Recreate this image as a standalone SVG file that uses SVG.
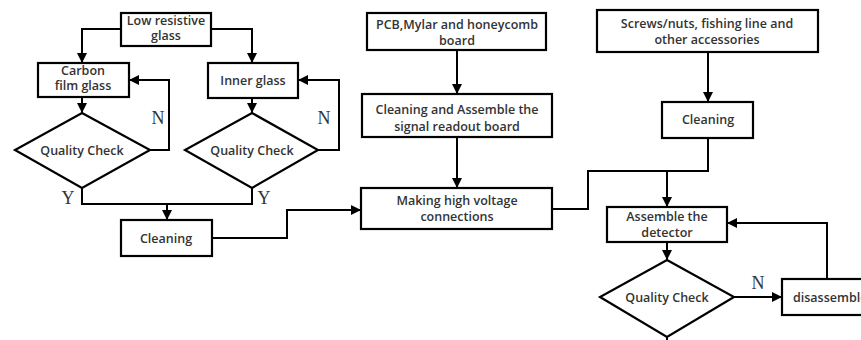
<svg xmlns="http://www.w3.org/2000/svg" width="861" height="340" viewBox="0 0 861 340">
<defs>
<marker id="ah" viewBox="0 0 10 10" refX="10" refY="5" markerWidth="5" markerHeight="5" orient="auto" markerUnits="strokeWidth">
<path d="M0,0 L10,5 L0,10 z" fill="#000"/>
</marker>
<style>
.box{fill:#fff;stroke:#000;stroke-width:2.2}
.t{font-family:"Open Sans","Liberation Sans",sans-serif;font-weight:600;font-size:12.5px;fill:#333;text-anchor:middle}
.l{font-family:"Liberation Serif","DejaVu Serif",serif;font-size:18px;fill:#333;text-anchor:middle}
.c{fill:none;stroke:#000;stroke-width:2}
.a{marker-end:url(#ah)}
</style>
</defs>
<rect width="861" height="340" fill="#fff"/>
<g id="connectors">
<path class="c a" d="M121,29 H82 V63"/>
<path class="c a" d="M211,29 H252 V63"/>
<path class="c a" d="M82,97 V113"/>
<path class="c a" d="M252,98 V113"/>
<path class="c a" d="M150,150 H169 V80 H129"/>
<path class="c a" d="M318,150 H339 V80 H298"/>
<path class="c" d="M82,188 V204 H252 V188"/>
<path class="c a" d="M167,204 V220"/>
<path class="c a" d="M212,238 H287 V210 H361"/>
<path class="c a" d="M457,50 V94"/>
<path class="c a" d="M457,137 V188"/>
<path class="c a" d="M708,52 V102"/>
<path class="c" d="M552,209 H588 V171 H708 V138"/>
<path class="c a" d="M667,171 V207"/>
<path class="c a" d="M667,242 V260"/>
<path class="c a" d="M734,297 H782"/>
<path class="c a" d="M827,279 V223 H727"/>
<path class="c" d="M667,337 V340"/>
<text class="l" x="158" y="124">N</text>
<text class="l" x="324" y="124">N</text>
<text class="l" x="68" y="204">Y</text>
<text class="l" x="264" y="204">Y</text>
<text class="l" x="758" y="289">N</text>
</g>
<g id="low-resistive-glass">
<rect class="box" x="121" y="13" width="90" height="33"/>
<text class="t" x="166" y="25">Low resistive</text>
<text class="t" x="166" y="40">glass</text>
</g>
<g id="carbon-film-glass">
<rect class="box" x="38" y="63" width="91" height="34"/>
<text class="t" x="83" y="75">Carbon</text>
<text class="t" x="83" y="90">film glass</text>
</g>
<g id="inner-glass">
<rect class="box" x="208" y="63" width="90" height="35"/>
<text class="t" x="253" y="85">Inner glass</text>
</g>
<g id="qc-left">
<polygon class="box" points="82,113 150,150 82,188 15,150"/>
<text class="t" x="82" y="155">Quality Check</text>
</g>
<g id="qc-right">
<polygon class="box" points="252,113 318,150 252,188 185,150"/>
<text class="t" x="252" y="155">Quality Check</text>
</g>
<g id="cleaning-left">
<rect class="box" x="121" y="220" width="91" height="36"/>
<text class="t" x="166" y="243">Cleaning</text>
</g>
<g id="pcb">
<rect class="box" x="367" y="13" width="179" height="37"/>
<text class="t" x="457" y="29">PCB,Mylar and honeycomb</text>
<text class="t" x="457" y="45">board</text>
</g>
<g id="cleaning-assemble">
<rect class="box" x="362" y="94" width="190" height="43"/>
<text class="t" x="457" y="114">Cleaning and Assemble the</text>
<text class="t" x="457" y="131">signal readout board</text>
</g>
<g id="making-hv">
<rect class="box" x="361" y="188" width="191" height="41"/>
<text class="t" x="457" y="205">Making high voltage</text>
<text class="t" x="457" y="221">connections</text>
</g>
<g id="screws">
<rect class="box" x="597" y="10" width="221" height="42"/>
<text class="t" x="707" y="28">Screws/nuts, fishing line and</text>
<text class="t" x="707" y="44">other accessories</text>
</g>
<g id="cleaning-right">
<rect class="box" x="662" y="102" width="91" height="36"/>
<text class="t" x="708" y="124">Cleaning</text>
</g>
<g id="assemble-detector">
<rect class="box" x="607" y="207" width="120" height="35"/>
<text class="t" x="667" y="221">Assemble the</text>
<text class="t" x="667" y="237">detector</text>
</g>
<g id="qc-detector">
<polygon class="box" points="667,260 734,297 667,337 600,297"/>
<text class="t" x="667" y="302">Quality Check</text>
</g>
<g id="disassemble">
<rect class="box" x="782" y="279" width="90" height="36"/>
<text class="t" x="793" y="302" style="text-anchor:start">disassemble</text>
</g>
</svg>
